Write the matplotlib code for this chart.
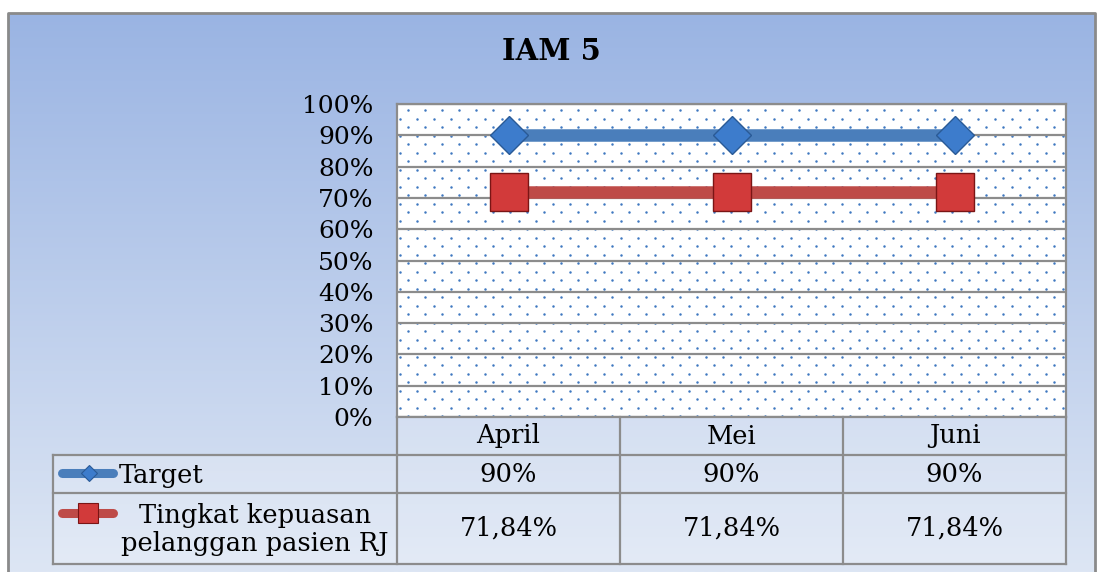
import numpy as np
import matplotlib.pyplot as plt
from matplotlib.patches import Rectangle

months = ['April', 'Mei', 'Juni']
target = [90, 90, 90]
kepuasan = [71.84, 71.84, 71.84]
target_labels = ['90%', '90%', '90%']
kepuasan_labels = ['71,84%', '71,84%', '71,84%']
series_names = ['Target', 'Tingkat kepuasan\npelanggan pasien RJ']
yticks = list(range(0, 101, 10))

W, H = 1097, 572
BLUE = '#4a7ebb'
RED = '#be4b48'
GRID = '#8c8c8c'
FONT = 'DejaVu Serif'

fig = plt.figure(figsize=(W / 100, H / 100), dpi=100)

# background layer in pixel coords
bg = fig.add_axes([0, 0, 1, 1])
bg.axis('off')

top = np.array([154, 180, 227]) / 255
bot = np.array([221, 230, 244]) / 255
t = np.linspace(0, 1, 256)[:, None]
grad = (top * (1 - t) + bot * t)[:, None, :]
bg.imshow(grad, extent=(8, 1095, H, 13), aspect='auto', zorder=0)
bg.plot([8, 8, 1095, 1095], [H, 13, 13, H], color='#8a8a8a', lw=2, zorder=1)
bg.set_xlim(0, W)
bg.set_ylim(H, 0)

# plot area box with dotted fill
px0, px1, py0, py1 = 397, 1066, 104, 417
bg.add_patch(Rectangle((px0, py0), px1 - px0, py1 - py0, facecolor='white', edgecolor='none', zorder=2))
dx, dy = [], []
for i, yy in enumerate(np.arange(110, py1, 8.5)):
    start = 408 if i % 2 == 0 else 400
    xs = np.arange(start, px1 - 2, 17)
    dx.extend(xs)
    dy.extend([yy] * len(xs))
bg.scatter(dx, dy, s=3.2, color='#3f78c0', linewidths=0, zorder=3)

# table
col_x = [px0, 620, 843, px1]
bg.add_patch(Rectangle((px0, 417), px1 - px0, 38, facecolor='white', alpha=0.2, zorder=2))
bg.add_patch(Rectangle((53, 455), px1 - 53, 109, facecolor='white', alpha=0.2, zorder=2))
for yy in [455, 493, 564]:
    bg.plot([53, px1], [yy, yy], color=GRID, lw=1.6, zorder=4)
bg.plot([53, 53], [455, 564], color=GRID, lw=1.6, zorder=4)
for cx in col_x:
    bg.plot([cx, cx], [417, 564], color=GRID, lw=1.6, zorder=4)

centers = [(col_x[i] + col_x[i + 1]) / 2 for i in range(3)]
for cx, m, a, b in zip(centers, months, target_labels, kepuasan_labels):
    bg.text(cx, 436, m, ha='center', va='center', fontsize=18.5, family=FONT, zorder=5)
    bg.text(cx, 474, a, ha='center', va='center', fontsize=18.5, family=FONT, zorder=5)
    bg.text(cx, 528, b, ha='center', va='center', fontsize=18.5, family=FONT, zorder=5)

# legend keys inside the table
bg.plot([62, 113], [473, 473], color=BLUE, lw=6.5, solid_capstyle='round', zorder=5)
bg.plot([89], [473], marker='D', ms=8.5, color='#3d7ccc', mec='#2a5a96', mew=0.8, zorder=6)
bg.text(119, 475, series_names[0], ha='left', va='center', fontsize=18.5, family=FONT, zorder=5)
bg.plot([62, 113], [513, 513], color=RED, lw=6.5, solid_capstyle='round', zorder=5)
bg.plot([88], [513], marker='s', ms=14, color='#d23a3a', mec='#7a1515', mew=0.8, zorder=6)
bg.text(255, 530, series_names[1], ha='center', va='center', fontsize=18.5, family=FONT,
        linespacing=1.15, zorder=5)

# main chart
ax = fig.add_axes([px0 / W, 1 - py1 / H, (px1 - px0) / W, (py1 - py0) / H])
ax.set_facecolor('none')
x = np.arange(len(months)) + 0.5
ax.set_xlim(0, len(months))
ax.set_ylim(0, 100)
ax.set_yticks(yticks)
ax.set_yticklabels([f'{v}%' for v in yticks], family=FONT, fontsize=18)
ax.set_xticks([])
ax.tick_params(axis='y', length=0, pad=17)
ax.grid(axis='y', color=GRID, lw=1.6)
ax.set_axisbelow(True)
for s in ax.spines.values():
    s.set_color(GRID)
    s.set_linewidth(1.6)

ax.plot(x, target, color=BLUE, lw=9, marker='D', ms=19, mfc='#3d7ccc', mec='#2a5a96', mew=1, zorder=3)
ax.plot(x, kepuasan, color=RED, lw=9, marker='s', ms=27, mfc='#d23a3a', mec='#7a1515', mew=1, zorder=3)

fig.text(551 / W, 1 - 52 / H, 'IAM 5', ha='center', va='center', fontsize=21,
         fontweight='bold', family=FONT)

fig.savefig('out.png', dpi=100)
